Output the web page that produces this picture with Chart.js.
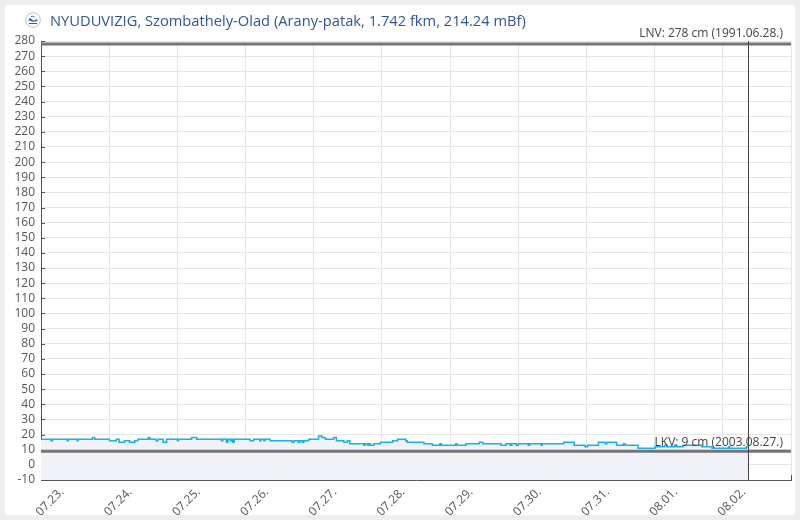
<!DOCTYPE html>
<html>
<head>
<meta charset="utf-8">
<script src="https://cdn.jsdelivr.net/npm/chart.js@4"></script>
<style>
    body {
        margin: 0;
        background: #eeeeee;
        font-family: "Open Sans", sans-serif;
    }
    .card {
        position: absolute;
        left: 5px;
        top: 5px;
        width: 790px;
        height: 510px;
        background: #ffffff;
    }
    .chart-box {
        position: absolute;
        left: 0;
        top: 0;
        width: 790px;
        height: 510px;
    }
    .title {
        position: absolute;
        left: 20px;
        top: 5px;
        height: 20px;
        line-height: 20px;
        font-size: 14.7px;
        color: #2f5597;
        white-space: nowrap;
        display: flex;
        align-items: center;
        gap: 9px;
    }
</style>
</head>
<body>
<div class="card">
    <div class="chart-box"><canvas id="levelChart"></canvas></div>
    <div class="title">
        <svg width="16" height="16" viewBox="0 0 16 16">
            <circle cx="8" cy="8" r="7.3" fill="#ffffff" stroke="#b8bcc4" stroke-width="1"/>
            <path d="M3 8 Q5 5 7 7.5 T11 7 L13 8.5 Q10 10.5 7 9.5 Q5 9 3 8 Z" fill="#2f6db5"/>
            <path d="M6 4.5 Q8 3.5 9.5 5" stroke="#2f6db5" stroke-width="1" fill="none"/>
            <rect x="4" y="11" width="8" height="1" fill="#555"/>
        </svg>
        <span>NYUDUVIZIG, Szombathely-Olad (Arany-patak, 1.742 fkm, 214.24 mBf)</span>
    </div>
</div>
<script>
// hours counted from 07.23. 00:00
const dayLabels = ['07.23.', '07.24.', '07.25.', '07.26.', '07.27.', '07.28.', '07.29.', '07.30.', '07.31.', '08.01.', '08.02.'];

// water level (cm), each value holds from its hour until the next one
const levelHours = [
    0, 3.5, 4, 9.2, 9.6, 12.7, 13.1, 18.1, 18.9,
    24.1, 26.5, 27.5, 29.4, 31.2, 33, 34.1, 37.7, 38.3, 40.5, 41.2, 43, 44.2,
    48, 48.4, 53, 54.8, 63.5, 64, 65.3, 65.8, 66.6, 67.1, 67.5, 68,
    73.6, 74.8, 77, 77.4, 78.4, 78.8, 80.7, 88.3, 89, 90.6, 91.1, 92, 92.5,
    94.2, 97.7, 98.9, 100.1, 103, 104, 106.6, 107.8, 108.7, 113.6, 114, 115, 115.4, 116, 117.2,
    119.5, 123.8, 125.5, 128.4, 128.9, 134.8, 137.8, 140.4, 140.9, 146, 146.4, 149.6,
    154.3, 155.5, 162, 163.7, 165.2, 165.7, 167.3, 168, 171.5, 172, 176, 176.4,
    184, 187.7, 191.5, 192.4, 196.2, 198.5, 199.2, 202.6, 205, 205.6, 210.2,
    216.1, 219.5, 220.2, 223, 223.5, 226, 232.6, 236.2, 242, 242.4, 248.3, 249
];
const levelValues = [
    17, 16, 17, 16, 17, 16, 17, 18, 17,
    16, 17, 15, 16, 15, 16, 17, 18, 17, 16, 17, 15, 17,
    16, 17, 18, 17, 16, 17, 15, 17, 16, 17, 15, 17,
    16, 17, 16, 17, 16, 17, 16, 15, 16, 15, 16, 15, 16,
    17, 19, 18, 17, 18, 16, 15, 16, 14, 13, 14, 13, 14, 13, 14,
    15, 16, 17, 16, 15, 14, 13, 14, 13, 14, 13, 14,
    15, 14, 13, 14, 13, 14, 13, 14, 13, 14, 13, 14,
    15, 13, 12, 13, 15, 14, 15, 13, 14, 13, 11,
    12, 13, 12, 13, 12, 13, 12, 11, 12, 11, 12, 12
];

const nowHour = 249;
const lnvValue = 278;
const lnvText = 'LNV: 278 cm (1991.06.28.)';
const lkvValue = 9;
const lkvText = 'LKV: 9 cm (2003.08.27.)';

Chart.defaults.font.family = '"Open Sans", sans-serif';
Chart.defaults.font.size = 12;
Chart.defaults.color = '#555555';

// LNV / LKV lines, inner tick marks, "now" line
const markerLines = {
    id: 'markerLines',
    beforeDatasetsDraw(chart) {
        const { ctx, chartArea, scales } = chart;
        ctx.save();
        ctx.strokeStyle = '#555555';
        ctx.lineWidth = 1;
        scales.x.ticks.forEach(t => {
            const px = Math.round(scales.x.getPixelForValue(t.value)) + 0.5;
            ctx.beginPath();
            ctx.moveTo(px, chartArea.bottom - 5);
            ctx.lineTo(px, chartArea.bottom);
            ctx.stroke();
        });
        scales.y.ticks.forEach(t => {
            const py = Math.round(scales.y.getPixelForValue(t.value)) + 0.5;
            ctx.beginPath();
            ctx.moveTo(chartArea.left, py);
            ctx.lineTo(chartArea.left + 4, py);
            ctx.stroke();
        });
        ctx.restore();
    },
    afterDatasetsDraw(chart) {
        const { ctx, chartArea, scales } = chart;
        ctx.save();
        ctx.strokeStyle = '#747474';
        ctx.lineWidth = 3;
        [lnvValue, lkvValue].forEach(v => {
            const py = scales.y.getPixelForValue(v);
            ctx.beginPath();
            ctx.moveTo(chartArea.left, py);
            ctx.lineTo(chartArea.right, py);
            ctx.stroke();
        });

        const nx = Math.round(scales.x.getPixelForValue(nowHour)) + 0.5;
        ctx.strokeStyle = '#444444';
        ctx.lineWidth = 1;
        ctx.beginPath();
        ctx.moveTo(nx, chartArea.top);
        ctx.lineTo(nx, chartArea.bottom);
        ctx.stroke();

        ctx.fillStyle = '#444444';
        ctx.font = '12px "Open Sans", sans-serif';
        ctx.textAlign = 'right';
        ctx.textBaseline = 'bottom';
        ctx.fillText(lnvText, chartArea.right - 8, scales.y.getPixelForValue(lnvValue) - 4);
        ctx.fillText(lkvText, chartArea.right - 8, scales.y.getPixelForValue(lkvValue) - 3);
        ctx.restore();
    }
};

const levelPoints = levelHours.map((h, i) => ({ x: h, y: levelValues[i] }));

new Chart(document.getElementById('levelChart').getContext('2d'), {
    type: 'line',
    data: {
        datasets: [{
            data: levelPoints,
            borderColor: '#14b2ea',
            backgroundColor: '#f1f2f7',
            borderWidth: 1.5,
            pointRadius: 0,
            stepped: true,
            fill: 'start'
        }]
    },
    options: {
        responsive: true,
        maintainAspectRatio: false,
        animation: false,
        layout: { padding: { top: 36, right: 4, left: 0, bottom: 0 } },
        plugins: {
            legend: { display: false },
            tooltip: { enabled: false }
        },
        scales: {
            x: {
                type: 'linear',
                min: 0,
                max: 264,
                grid: { color: '#e6e6e6', drawTicks: false },
                border: { color: '#555555' },
                ticks: {
                    stepSize: 24,
                    autoSkip: false,
                    maxRotation: 45,
                    minRotation: 45,
                    labelOffset: 21,
                    padding: 5,
                    callback: (v, i) => dayLabels[i] || ''
                },
                afterFit: scale => {
                    scale.height = 35;
                    scale.paddingLeft = 0;
                    scale.paddingRight = 0;
                }
            },
            y: {
                min: -10,
                max: 280,
                grid: { color: '#e6e6e6', drawTicks: false },
                border: { color: '#555555' },
                ticks: {
                    stepSize: 10,
                    autoSkip: false,
                    padding: 6
                },
                afterFit: scale => { scale.width = 36; }
            }
        }
    },
    plugins: [markerLines]
});
</script>
</body>
</html>
